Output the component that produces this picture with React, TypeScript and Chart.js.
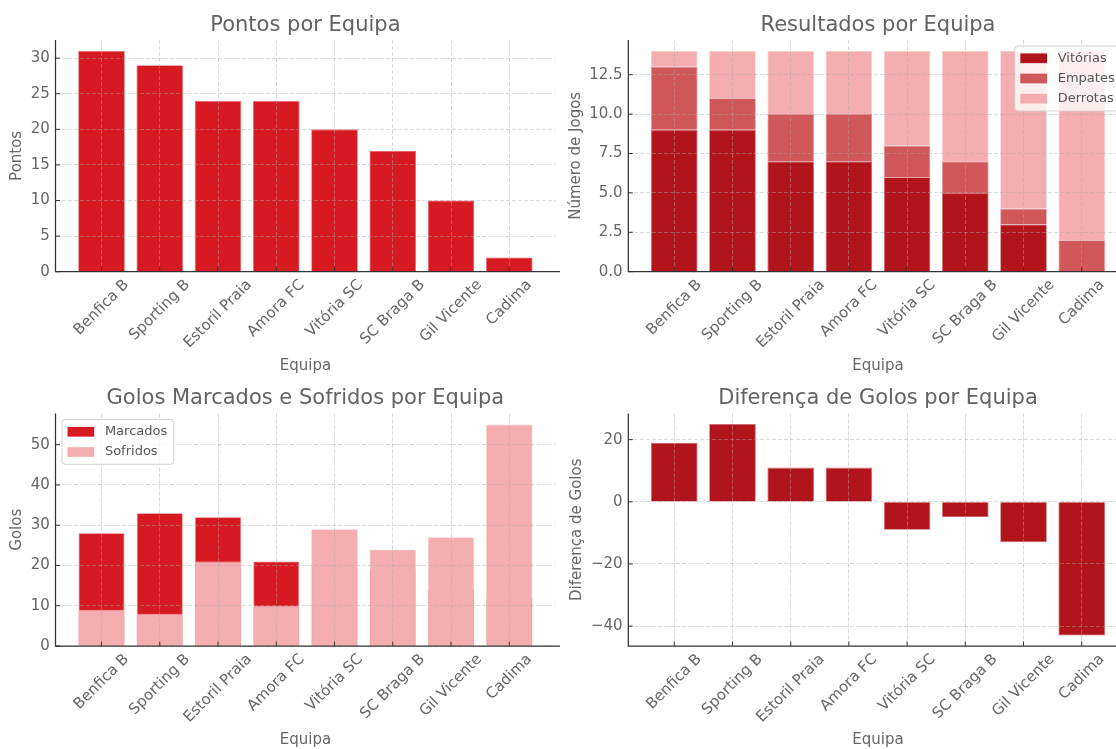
import React, { useEffect, useRef } from 'react';
import { Chart, registerables } from 'chart.js';

Chart.register(...registerables);

// ---------------- data ----------------
const teams = ['Benfica B', 'Sporting B', 'Estoril Praia', 'Amora FC', 'Vitória SC', 'SC Braga B', 'Gil Vicente', 'Cadima'];
const points = [31, 29, 24, 24, 20, 17, 10, 2];
const wins = [9, 9, 7, 7, 6, 5, 3, 0];
const draws = [4, 2, 3, 3, 2, 2, 1, 2];
const losses = [1, 3, 4, 4, 6, 7, 10, 12];
const goalsFor = [28, 33, 32, 21, 20, 19, 14, 12];
const goalsAgainst = [9, 8, 21, 10, 29, 24, 27, 55];
const goalDiff = [19, 25, 11, 11, -9, -5, -13, -43];

const pointsTicks = [0, 5, 10, 15, 20, 25, 30];
const resultsTicks = [0, 2.5, 5, 7.5, 10, 12.5];
const goalsTicks = [0, 10, 20, 30, 40, 50];
const diffTicks = [-40, -20, 0, 20];

const xRange = [-0.79, 7.79];
const pointsRange = [0, 32.55];
const resultsRange = [0, 14.7];
const goalsRange = [0, 57.75];
const diffRange = [-46.4, 28.4];

// ---------------- style ----------------
const FONT = '"DejaVu Sans", "Liberation Sans", sans-serif';
const TEXT = '#666666';
const TITLE = '#626262';
const SPINE = '#333333';
const GRID = 'rgba(170,170,170,0.55)';
const RED = '#d71a21';
const DARK = '#b2141c';
const MID = '#d0575a';
const PINK = '#f5aeb0';

function lighten(hex: string, t: number): string {
  const n = parseInt(hex.slice(1), 16);
  const r = (n >> 16) & 255, g = (n >> 8) & 255, b = n & 255;
  const f = (c: number) => Math.round(c + (255 - c) * t);
  return `rgb(${f(r)},${f(g)},${f(b)})`;
}

interface DS { label: string; values: number[]; color: string; order?: number; barPct?: number }
interface Spec {
  left: number; top: number; width: number; height: number;
  area: { l: number; t: number; r: number; b: number };
  title: string; yLabel: string; xLabel: string;
  datasets: DS[]; yRange: number[]; yTicks: number[];
  yFmt: (v: number) => string;
  stacked: boolean; overlap: boolean; legend?: 'ul' | 'ur';
}

const intFmt = (v: number) => String(v);
const decFmt = (v: number) => v.toFixed(1);
const minusFmt = (v: number) => (v < 0 ? '\u2212' + Math.abs(v) : String(v));

const specs: Spec[] = [
  {
    left: 0, top: 0, width: 560, height: 378,
    area: { l: 55.5, t: 40, r: 555.3, b: 271.7 },
    title: 'Pontos por Equipa', yLabel: 'Pontos', xLabel: 'Equipa',
    datasets: [{ label: 'Pontos', values: points, color: RED }],
    yRange: pointsRange, yTicks: pointsTicks, yFmt: intFmt, stacked: false, overlap: false,
  },
  {
    left: 560, top: 0, width: 580, height: 378,
    area: { l: 68.3, t: 40, r: 567.7, b: 271.7 },
    title: 'Resultados por Equipa', yLabel: 'Número de Jogos', xLabel: 'Equipa',
    datasets: [
      { label: 'Vitórias', values: wins, color: DARK },
      { label: 'Empates', values: draws, color: MID },
      { label: 'Derrotas', values: losses, color: PINK },
    ],
    yRange: resultsRange, yTicks: resultsTicks, yFmt: decFmt, stacked: true, overlap: false, legend: 'ur',
  },
  {
    left: 0, top: 378, width: 560, height: 371,
    area: { l: 55.5, t: 35.5, r: 555.3, b: 268 },
    title: 'Golos Marcados e Sofridos por Equipa', yLabel: 'Golos', xLabel: 'Equipa',
    datasets: [
      { label: 'Marcados', values: goalsFor, color: RED, order: 1, barPct: 0.788 },
      { label: 'Sofridos', values: goalsAgainst, color: PINK, order: 0 },
    ],
    yRange: goalsRange, yTicks: goalsTicks, yFmt: intFmt, stacked: false, overlap: true, legend: 'ul',
  },
  {
    left: 560, top: 378, width: 580, height: 371,
    area: { l: 68.3, t: 35.5, r: 567.7, b: 268 },
    title: 'Diferença de Golos por Equipa', yLabel: 'Diferença de Golos', xLabel: 'Equipa',
    datasets: [{ label: 'Diferença', values: goalDiff, color: DARK }],
    yRange: diffRange, yTicks: diffTicks, yFmt: minusFmt, stacked: false, overlap: false,
  },
];

function decor(spec: Spec) {
  return {
    id: 'decor',
    afterDraw(chart: any) {
      const ctx: CanvasRenderingContext2D = chart.ctx;
      const a = chart.chartArea;
      const xs = chart.scales.x;
      const ys = chart.scales.y;
      ctx.save();

      // spines
      ctx.strokeStyle = SPINE;
      ctx.lineWidth = 1.25;
      ctx.setLineDash([]);
      ctx.beginPath();
      ctx.moveTo(a.left, a.top);
      ctx.lineTo(a.left, a.bottom);
      ctx.lineTo(a.right + 5, a.bottom);
      ctx.stroke();

      // tick marks (inward)
      ctx.lineWidth = 1;
      ctx.beginPath();
      xs.ticks.forEach((t: any) => {
        const x = xs.getPixelForValue(t.value);
        ctx.moveTo(x, a.bottom - 4.5);
        ctx.lineTo(x, a.bottom);
      });
      ys.ticks.forEach((t: any) => {
        const y = ys.getPixelForValue(t.value);
        ctx.moveTo(a.left, y);
        ctx.lineTo(a.left + 4.5, y);
      });
      ctx.stroke();

      // x tick labels, rotated 45deg, bbox centred on tick
      ctx.font = `15px ${FONT}`;
      ctx.fillStyle = TEXT;
      teams.forEach((lab, i) => {
        const x = xs.getPixelForValue(i);
        const w = ctx.measureText(lab).width;
        const side = (w + 17.5) * Math.SQRT1_2;
        const cy = a.bottom + 4.7 + side / 2;
        ctx.save();
        ctx.translate(x, cy);
        ctx.rotate(-Math.PI / 4);
        ctx.textAlign = 'center';
        ctx.textBaseline = 'middle';
        ctx.fillText(lab, 0, 0);
        ctx.restore();
      });

      // x axis title
      ctx.textAlign = 'center';
      ctx.textBaseline = 'alphabetic';
      ctx.fillText(spec.xLabel, (a.left + a.right) / 2, a.bottom + 98);

      // y axis title
      const maxW = Math.max(...spec.yTicks.map((v) => ctx.measureText(spec.yFmt(v)).width));
      const yx = a.left - 5.7 - maxW - 13.5;
      ctx.save();
      ctx.translate(yx, (a.top + a.bottom) / 2);
      ctx.rotate(-Math.PI / 2);
      ctx.textAlign = 'center';
      ctx.textBaseline = 'middle';
      ctx.fillText(spec.yLabel, 0, 0);
      ctx.restore();

      // title
      ctx.font = `21px ${FONT}`;
      ctx.fillStyle = TITLE;
      ctx.textAlign = 'center';
      ctx.textBaseline = 'alphabetic';
      ctx.fillText(spec.title, (a.left + a.right) / 2, a.top - 9.5);

      // legend
      if (spec.legend) {
        ctx.font = `13px ${FONT}`;
        const items = chart.data.datasets.map((d: any) => ({ label: d.label, color: d.backgroundColor }));
        const tw = Math.max(...items.map((it: any) => ctx.measureText(it.label).width));
        const padL = 5.5, padR = 6.5, hw = 26.7, hh = 9.7, gap = 10.7, row = 20.2, first = 12.3;
        const bw = padL + hw + gap + tw + padR;
        const bh = first * 2 + row * (items.length - 1);
        const bx = spec.legend === 'ul' ? a.left + 6.5 : a.right - 6.5 - bw;
        const by = a.top + 6;
        ctx.beginPath();
        (ctx as any).roundRect(bx, by, bw, bh, 3);
        ctx.fillStyle = 'rgba(255,255,255,0.8)';
        ctx.fill();
        ctx.strokeStyle = 'rgba(204,204,204,0.9)';
        ctx.lineWidth = 1;
        ctx.stroke();
        items.forEach((it: any, k: number) => {
          const cy = by + first + k * row;
          ctx.fillStyle = it.color;
          ctx.fillRect(bx + padL, cy - hh / 2, hw, hh);
          ctx.fillStyle = '#555555';
          ctx.textAlign = 'left';
          ctx.textBaseline = 'middle';
          ctx.fillText(it.label, bx + padL + hw + gap, cy);
        });
      }
      ctx.restore();
    },
  };
}

function makeConfig(spec: Spec): any {
  const gridCommon = { display: true, drawTicks: false, color: GRID, lineWidth: 0.8, z: 1, offset: false };
  const borderCommon = { display: false, dash: [4, 2] };
  return {
    type: 'bar',
    data: {
      datasets: spec.datasets.map((ds) => ({
        label: ds.label,
        data: ds.values.map((v, i) => ({ x: i, y: v })),
        backgroundColor: ds.color,
        borderColor: lighten(ds.color, 0.35),
        borderWidth: 0.8,
        borderSkipped: 'start',
        categoryPercentage: 1,
        barPercentage: ds.barPct ?? 0.8,
        grouped: !spec.overlap,
        order: ds.order ?? 0,
      })),
    },
    options: {
      responsive: false,
      animation: false,
      devicePixelRatio: 1,
      layout: { padding: { left: 0, top: spec.area.t, right: spec.width - spec.area.r, bottom: 0 } },
      plugins: { legend: { display: false }, title: { display: false }, tooltip: { enabled: false } },
      scales: {
        x: {
          type: 'linear',
          min: xRange[0],
          max: xRange[1],
          offset: false,
          stacked: spec.stacked,
          afterBuildTicks: (s: any) => { s.ticks = teams.map((_, i) => ({ value: i })); },
          afterFit: (s: any) => { s.height = spec.height - spec.area.b; },
          ticks: { display: false },
          grid: gridCommon,
          border: borderCommon,
        },
        y: {
          type: 'linear',
          min: spec.yRange[0],
          max: spec.yRange[1],
          stacked: spec.stacked,
          afterBuildTicks: (s: any) => { s.ticks = spec.yTicks.map((v) => ({ value: v })); },
          afterFit: (s: any) => { s.width = spec.area.l; },
          ticks: {
            padding: 5.7,
            color: TEXT,
            font: { size: 15, family: FONT },
            callback: (v: any) => spec.yFmt(Number(v)),
          },
          grid: gridCommon,
          border: borderCommon,
        },
      },
    },
    plugins: [decor(spec)],
  };
}

function Panel({ spec }: { spec: Spec }) {
  const ref = useRef<HTMLCanvasElement>(null);
  useEffect(() => {
    const chart = new Chart(ref.current as HTMLCanvasElement, makeConfig(spec));
    return () => chart.destroy();
  }, [spec]);
  return (
    <canvas
      ref={ref}
      width={spec.width}
      height={spec.height}
      style={{ position: 'absolute', left: spec.left, top: spec.top, width: spec.width, height: spec.height }}
    />
  );
}

export default function App() {
  return (
    <div
      style={{
        position: 'absolute',
        left: 0,
        top: 0,
        width: 1116,
        height: 749,
        overflow: 'hidden',
        background: '#ffffff',
      }}
    >
      {specs.map((s, i) => (
        <Panel key={i} spec={s} />
      ))}
    </div>
  );
}
